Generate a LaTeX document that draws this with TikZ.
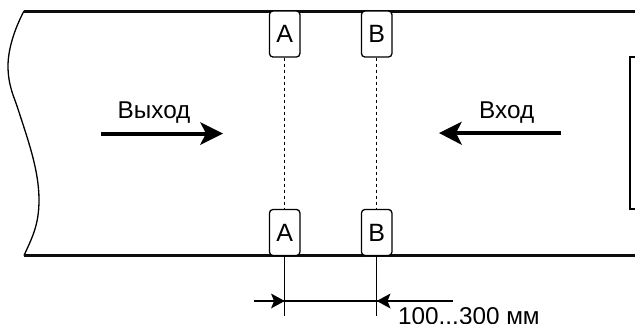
\documentclass[tikz,border=0pt]{standalone}
\usepackage{fontspec}
\setmainfont{Liberation Sans}
\begin{document}
\begin{tikzpicture}[x=1pt,y=-1pt,
  wall/.style={line width=3pt,black!95},
  thin line/.style={line width=1.3pt},
  sensor/.style={draw,line width=1.3pt,rounded corners=3.5pt,minimum width=30.5pt,minimum height=46pt,inner sep=0pt,fill=white,font=\fontsize{25}{25}\selectfont},
  label/.style={inner sep=0pt,font=\fontsize{24.3}{24.3}\selectfont},
  head/.style={fill=black,draw=none}]
\useasboundingbox[fill=white] (0,0) rectangle (635,324);
\coordinate (tl) at (24,11); \coordinate (tr) at (635,11);
\coordinate (bl) at (24,255.5); \coordinate (br) at (635,255.5);
\draw[line width=1.3pt] (tl) .. controls (14,30) and (8,50) .. (8,66) .. controls (8,85) and (14,97) .. (17,106) .. controls (28,140) and (39,170) .. (39,200) .. controls (39,225) and (32,238) .. (tl |- bl);
\draw[wall] (tl) -- (tr);
\draw[wall] (bl) -- (br);
\draw[line width=1.3pt] (635,57) -- (630,57) -- (630,209) -- (635,209);
\node[sensor] (a1) at (284.7,34) {A};
\node[sensor] (b1) at (376.7,34) {B};
\node[sensor] (a2) at (284.7,232.5) {A};
\node[sensor] (b2) at (376.7,232.5) {B};
\draw[line width=1.5pt,dash pattern=on 3pt off 3pt] (a1) -- (a2);
\draw[line width=1.5pt,dash pattern=on 3pt off 3pt] (b1) -- (b2);
\coordinate (a3) at (284.7,316); \coordinate (b3) at (376.7,316);
\draw[thin line] (a2.south) -- (a3);
\draw[thin line] (b2.south) -- (b3);
\coordinate (d1) at (254,301); \coordinate (d2) at (453,301);
\draw[thin line] (d1) -- (d2);
\fill[head] (284.7,301) -- (271,293.5) -- (274,301) -- (271,308.5) -- cycle;
\fill[head] (376.7,301) -- (390.5,293.5) -- (387.5,301) -- (390.5,308.5) -- cycle;
\coordinate (o1) at (101,133.5); \coordinate (o2) at (206,133.5);
\coordinate (i1) at (561,133); \coordinate (i2) at (456,133);
\draw[line width=4pt] (o1) -- (o2);
\fill[head] (223,133.5) -- (200,122) -- (206,133.5) -- (200,145) -- cycle;
\draw[line width=4pt] (i1) -- (i2);
\fill[head] (439,133) -- (462,121.5) -- (456,133) -- (462,145) -- cycle;
\node[label,anchor=base west] (out) at (117.5,118) {Выход};
\node[label,anchor=base west] (in) at (479,118) {Вход};
\node[label,anchor=base west] (dim) at (398,324.5) {100...300 мм};
\end{tikzpicture}
\end{document}
